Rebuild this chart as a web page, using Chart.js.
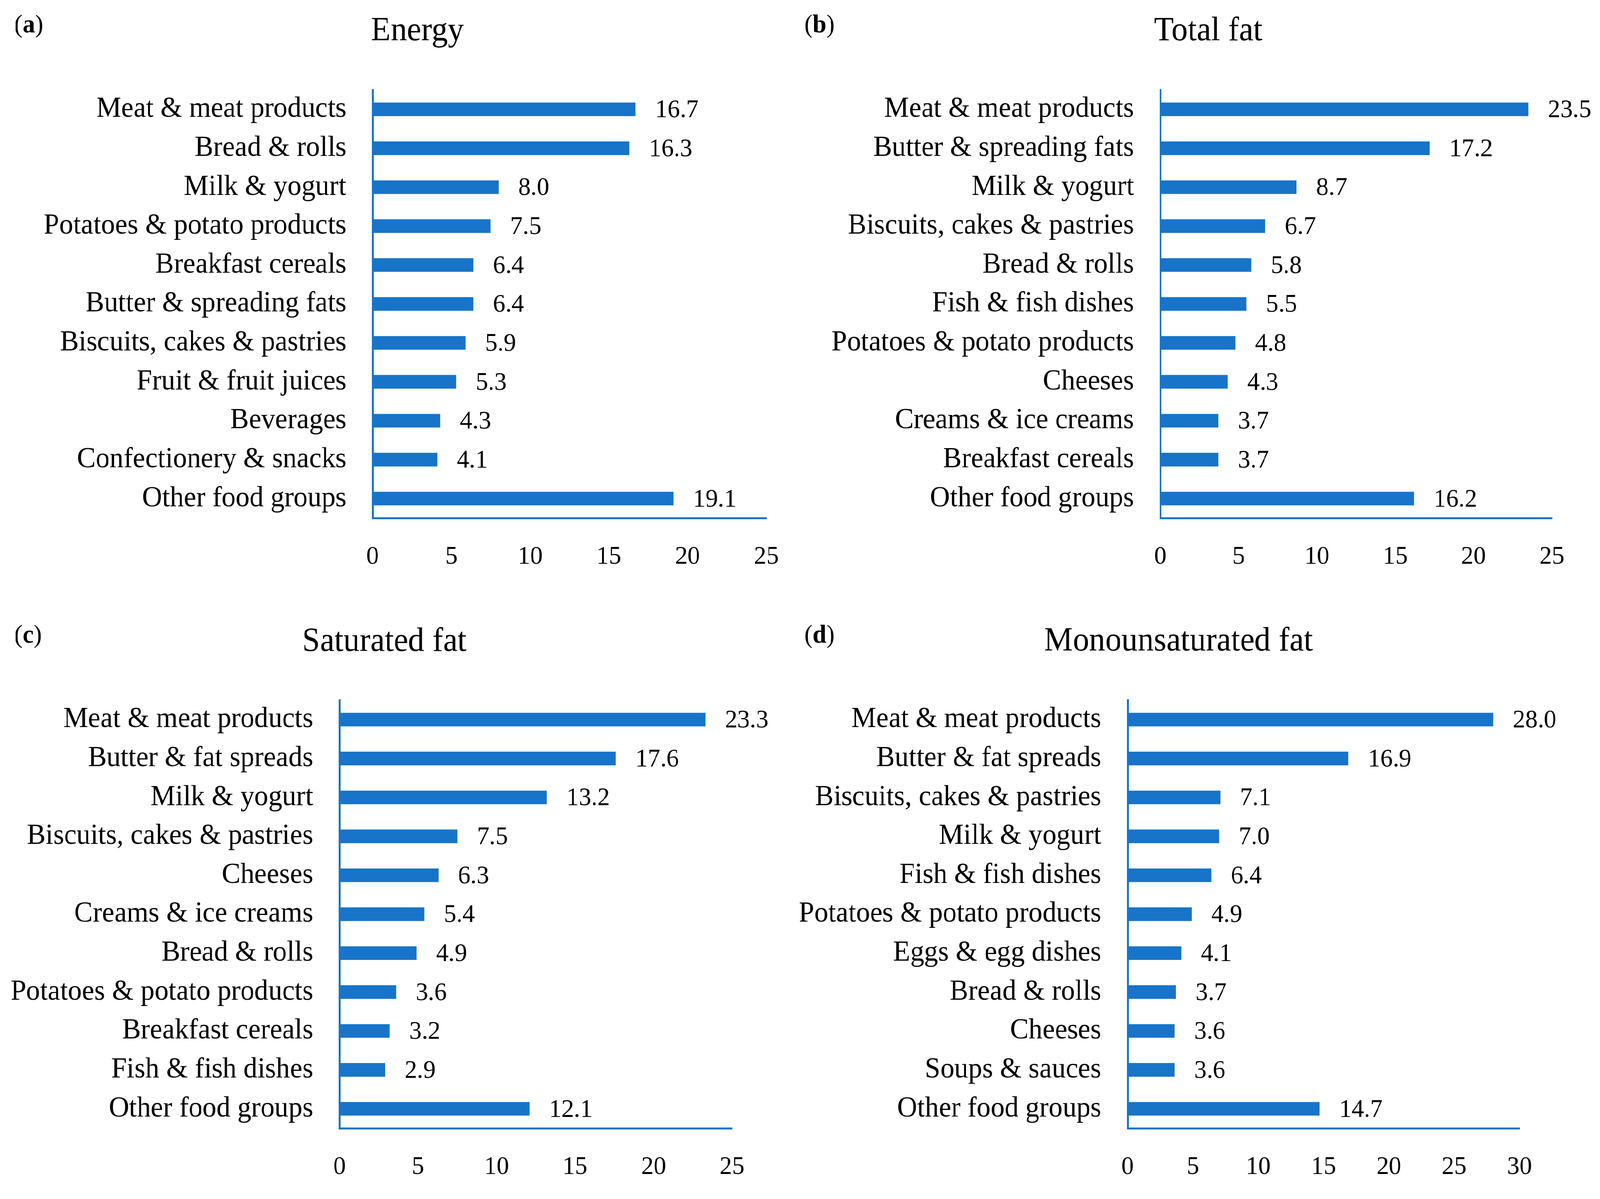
<!DOCTYPE html>
<html>
<head>
<meta charset="utf-8">
<script src="https://cdn.jsdelivr.net/npm/chart.js@4.4.0/dist/chart.umd.min.js"></script>
<style>
  html, body { margin: 0; padding: 0; background: #fff; overflow: hidden; }
  #page { width: 4251px; height: 3069px; position: absolute; left: 0; top: 0; transform-origin: 0 0; }
  canvas { position: absolute; }
</style>
</head>
<body>
<div id="page">
  <canvas id="chartA"></canvas>
  <canvas id="chartB"></canvas>
  <canvas id="chartC"></canvas>
  <canvas id="chartD"></canvas>
</div>
<script>
// (a) Energy
const energyLabels = ["Meat & meat products", "Bread & rolls", "Milk & yogurt", "Potatoes & potato products",
    "Breakfast cereals", "Butter & spreading fats", "Biscuits, cakes & pastries", "Fruit & fruit juices",
    "Beverages", "Confectionery & snacks", "Other food groups"];
const energyValues = [16.7, 16.3, 8.0, 7.5, 6.4, 6.4, 5.9, 5.3, 4.3, 4.1, 19.1];

// (b) Total fat
const totalFatLabels = ["Meat & meat products", "Butter & spreading fats", "Milk & yogurt",
    "Biscuits, cakes & pastries", "Bread & rolls", "Fish & fish dishes", "Potatoes & potato products",
    "Cheeses", "Creams & ice creams", "Breakfast cereals", "Other food groups"];
const totalFatValues = [23.5, 17.2, 8.7, 6.7, 5.8, 5.5, 4.8, 4.3, 3.7, 3.7, 16.2];

// (c) Saturated fat
const satFatLabels = ["Meat & meat products", "Butter & fat spreads", "Milk & yogurt",
    "Biscuits, cakes & pastries", "Cheeses", "Creams & ice creams", "Bread & rolls",
    "Potatoes & potato products", "Breakfast cereals", "Fish & fish dishes", "Other food groups"];
const satFatValues = [23.3, 17.6, 13.2, 7.5, 6.3, 5.4, 4.9, 3.6, 3.2, 2.9, 12.1];

// (d) Monounsaturated fat
const monoFatLabels = ["Meat & meat products", "Butter & fat spreads", "Biscuits, cakes & pastries",
    "Milk & yogurt", "Fish & fish dishes", "Potatoes & potato products", "Eggs & egg dishes",
    "Bread & rolls", "Cheeses", "Soups & sauces", "Other food groups"];
const monoFatValues = [28.0, 16.9, 7.1, 7.0, 6.4, 4.9, 4.1, 3.7, 3.6, 3.6, 14.7];

const xTicks25 = [0, 5, 10, 15, 20, 25];
const xTicks30 = [0, 5, 10, 15, 20, 25, 30];

const barColor = "#1774c9";
const serif = "'Liberation Serif', 'Times New Roman', serif";
const xAxisHeight = 150;

// the figure is laid out at 4251x3069 and scaled to whatever the window offers
const page = document.getElementById("page");
page.style.transform = "scale(" + (window.innerWidth / 4251) + "," + (window.innerHeight / 3069) + ")";

const panels = [
    { id: "chartA", tag: "a", title: "Energy", labels: energyLabels, values: energyValues, ticks: xTicks25,
      box: [0, 0, 2250, 1534], axisX: 990, xEnd: 2036, top: 230, bottom: 1326,
      titleX: 1109, titleY: 103, tagX: 38, tagY: 83 },
    { id: "chartB", tag: "b", title: "Total fat", labels: totalFatLabels, values: totalFatValues, ticks: xTicks25,
      box: [2100, 0, 2151, 1534], axisX: 3083, xEnd: 4123, top: 230, bottom: 1326,
      titleX: 3210, titleY: 103, tagX: 2137, tagY: 83 },
    { id: "chartC", tag: "c", title: "Saturated fat", labels: satFatLabels, values: satFatValues, ticks: xTicks25,
      box: [0, 1534, 2250, 1535], axisX: 902, xEnd: 1945, top: 1792, bottom: 2888,
      titleX: 1021, titleY: 1666, tagX: 38, tagY: 1645 },
    { id: "chartD", tag: "d", title: "Monounsaturated fat", labels: monoFatLabels, values: monoFatValues, ticks: xTicks30,
      box: [2100, 1534, 2151, 1535], axisX: 2996, xEnd: 4037, top: 1792, bottom: 2888,
      titleX: 3131, titleY: 1665, tagX: 2137, tagY: 1645 }
];

// value labels, panel title and (a)-(d) tag
const annotate = {
    id: "annotate",
    afterDatasetsDraw(chart, args, opts) {
        const ctx = chart.ctx;
        const data = chart.data.datasets[0].data;
        ctx.save();
        ctx.fillStyle = "#000";
        ctx.font = "66px " + serif;
        ctx.textAlign = "left";
        ctx.textBaseline = "middle";
        chart.getDatasetMeta(0).data.forEach((bar, i) => {
            ctx.fillText(data[i].toFixed(1), bar.x + 52, bar.y + 3);
        });

        ctx.textBaseline = "alphabetic";
        ctx.textAlign = "center";
        ctx.font = "86px " + serif;
        ctx.fillText(opts.title, opts.titleX, opts.titleY);

        ctx.textAlign = "left";
        let x = opts.tagX;
        [["(", ""], [opts.tag, "bold "], [")", ""]].forEach(([s, w]) => {
            ctx.font = w + "66px " + serif;
            ctx.fillText(s, x, opts.tagY);
            x += ctx.measureText(s).width;
        });
        ctx.restore();
    }
};

panels.forEach(p => {
    const [cx, cy, cw, ch] = p.box;
    const canvas = document.getElementById(p.id);
    canvas.width = cw;
    canvas.height = ch;
    canvas.style.left = cx + "px";
    canvas.style.top = cy + "px";
    canvas.style.width = cw + "px";
    canvas.style.height = ch + "px";

    new Chart(canvas.getContext("2d"), {
        type: "bar",
        data: {
            labels: p.labels,
            datasets: [{
                data: p.values,
                backgroundColor: barColor,
                barPercentage: 0.35,
                categoryPercentage: 1.0
            }]
        },
        options: {
            indexAxis: "y",
            responsive: false,
            animation: false,
            devicePixelRatio: 1,
            layout: {
                padding: {
                    top: p.top - cy,
                    left: 0,
                    right: cx + cw - p.xEnd,
                    bottom: cy + ch - p.bottom - xAxisHeight
                }
            },
            plugins: {
                legend: { display: false },
                tooltip: { enabled: false },
                annotate: {
                    title: p.title,
                    titleX: p.titleX - cx,
                    titleY: p.titleY - cy,
                    tag: p.tag,
                    tagX: p.tagX - cx,
                    tagY: p.tagY - cy
                }
            },
            scales: {
                x: {
                    type: "linear",
                    min: p.ticks[0],
                    max: p.ticks[p.ticks.length - 1],
                    afterBuildTicks: scale => { scale.ticks = p.ticks.map(v => ({ value: v })); },
                    grid: { display: false, drawTicks: false },
                    border: { display: true, color: barColor, width: 5 },
                    ticks: { color: "#000", padding: 60, font: { family: serif, size: 66 } },
                    afterFit: scale => { scale.height = xAxisHeight; }
                },
                y: {
                    grid: { display: false, drawTicks: false },
                    border: { display: true, color: barColor, width: 5 },
                    ticks: { color: "#000", padding: 70, autoSkip: false, font: { family: serif, size: 74 } },
                    afterFit: scale => { scale.width = p.axisX - cx; }
                }
            }
        },
        plugins: [annotate]
    });
});
</script>
</body>
</html>
